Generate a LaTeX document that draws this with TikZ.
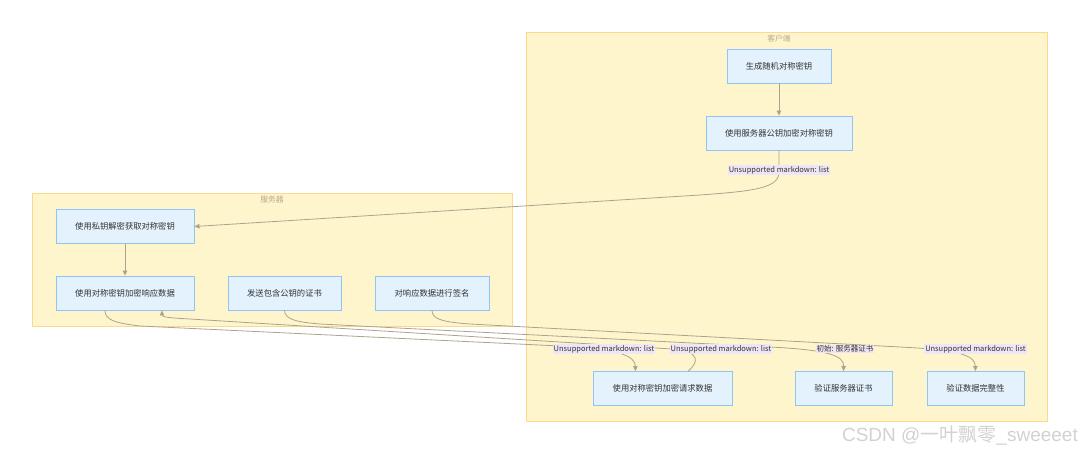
\documentclass[tikz,border=0pt]{standalone}
\usepackage{fontspec}
\setmainfont{Noto Sans CJK SC}
\newfontfamily\wmfont{Liberation Sans}
\usetikzlibrary{arrows.meta}
\definecolor{clfill}{HTML}{FFF5CC}
\definecolor{cldraw}{HTML}{FBD98F}
\definecolor{cltext}{HTML}{B3A98A}
\definecolor{nfill}{HTML}{E3F2FD}
\definecolor{ndraw}{HTML}{90C4F5}
\definecolor{ntext}{HTML}{333333}
\definecolor{edgec}{HTML}{ABA38C}
\definecolor{labfill}{HTML}{EEE6F6}
\definecolor{wmc}{HTML}{D2D2D2}
\tikzset{
  cluster/.style={draw=cldraw, fill=clfill, line width=0.9pt},
  cltitle/.style={text=cltext, font=\fontsize{7.8}{8}\selectfont, inner sep=0pt},
  box/.style={draw=ndraw, fill=nfill, line width=0.9pt, minimum height=34pt, inner sep=0pt,
    text=ntext, font=\fontsize{8.3}{9}\selectfont},
  edge/.style={draw=edgec, line width=0.8pt, -{Triangle[length=5pt,width=4.5pt]}},
  lab/.style={fill=labfill, text=ntext, inner sep=1pt, font=\fontsize{7.5}{9}\selectfont},
}
\begin{document}
\begin{tikzpicture}[x=1pt,y=-1pt]
\useasboundingbox (0,0) rectangle (1080,454);
\fill[white] (0,0) rectangle (1080,454);
% clusters
\draw[cluster] (526,32) rectangle (1047,421);
\node[cltitle] (tclient) at (779,38.5) {客户端};
\draw[cluster] (32,193) rectangle (512,326);
\node[cltitle] (tserver) at (272,199.5) {服务器};
% client nodes
\node[box, minimum width=104pt] (gen) at (779,66) {生成随机对称密钥};
\node[box, minimum width=146pt] (enc) at (779,133) {使用服务器公钥加密对称密钥};
\node[box, minimum width=139pt] (req) at (662.5,388.5) {使用对称密钥加密请求数据};
\node[box, minimum width=97pt] (vcert) at (843.5,388.5) {验证服务器证书};
\node[box, minimum width=97pt] (vint) at (975.5,388.5) {验证数据完整性};
% server nodes
\node[box, minimum width=138pt] (dec) at (125,226.5) {使用私钥解密获取对称密钥};
\node[box, minimum width=138pt] (resp) at (125,293) {使用对称密钥加密响应数据};
\node[box, minimum width=113pt] (cert) at (284.5,293) {发送包含公钥的证书};
\node[box, minimum width=114pt] (sign) at (432,293) {对响应数据进行签名};
% edges
\draw[edge] (gen) -- (enc);
\draw[edge] (dec) -- (resp);
\draw[edge] (enc.south) -- (779,172) .. controls (779,188) and (755,191) .. (700,195) -- (dec.east);
\draw[edge] ([xshift=-20pt]resp.south) .. controls (105,320) and (115,323) .. (140,326) -- (560,346) .. controls (620,349) and (635,356) .. ([xshift=-27pt]req.north);
\draw[edge] ([xshift=26pt]req.north) .. controls (698,362) and (702,352) .. (672,349) -- (190,319) .. controls (170,318) and (162,317) .. ([xshift=37pt]resp.south);
\draw[edge] (cert.south) .. controls (285,319) and (295,322) .. (320,324) -- (770,347) .. controls (830,350) and (844,356) .. (vcert.north);
\draw[edge] (sign.south) .. controls (432,319) and (442,322) .. (470,324) -- (900,347) .. controls (962,350) and (975,356) .. (vint.north);
% edge labels
\node[lab] (l1) at (779,170) {Unsupported markdown: list};
\node[lab] (l2) at (604,349) {Unsupported markdown: list};
\node[lab] (l3) at (721,349) {Unsupported markdown: list};
\node[lab] (l4) at (845,349) {初始: 服务器证书};
\node[lab] (l5) at (975.5,349) {Unsupported markdown: list};
% watermark
\node[anchor=east, text=wmc, inner sep=0pt, font=\fontsize{19}{20}\selectfont] (wm) at (1078,436) {{\wmfont CSDN @}一叶飘零{\wmfont\_sweeeet}};
\end{tikzpicture}
\end{document}
